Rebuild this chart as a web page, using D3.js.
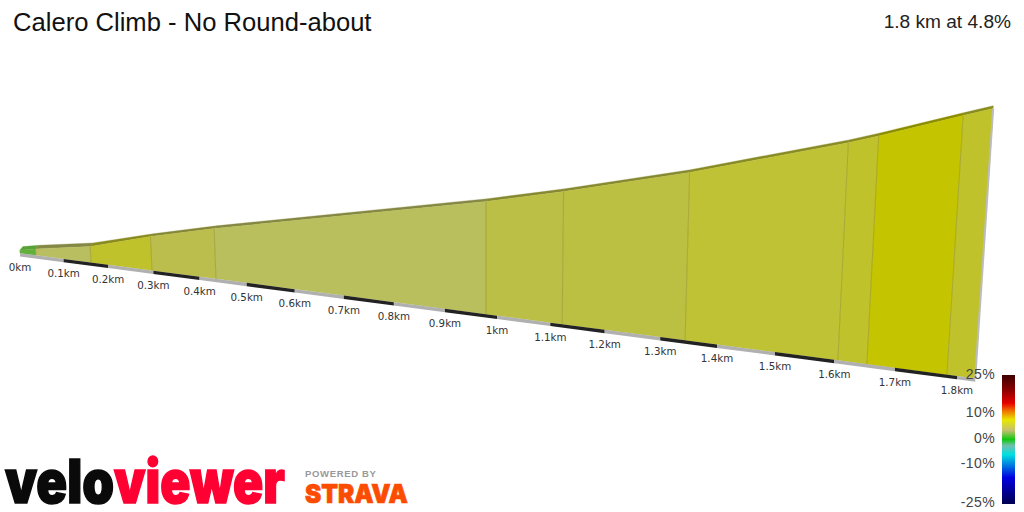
<!DOCTYPE html>
<html><head><meta charset="utf-8">
<script src="https://cdn.jsdelivr.net/npm/d3@7"></script>
<style>html,body{margin:0;padding:0;background:#fff;overflow:hidden}svg{display:block}</style>
</head><body><div id="chart"></div>
<script>
const titleText = "Calero Climb - No Round-about";
const summaryText = "1.8 km at 4.8%";
// Profile
const distanceKm = [0, 0.037, 0.162, 0.297, 0.435, 0.979, 1.122, 1.344, 1.606, 1.654, 1.784, 1.829];
const elevationM = [0, 1.3, 5.0, 11.8, 17.8, 39.1, 45.5, 56.5, 71.5, 74.6, 83.6, 86.7];
const gradePct = [0.6, 2.6, 6.0, 4.0, 2.8, 4.4, 4.7, 5.5, 6.0, 8.0, 6.0];
const tickKm = [0,0.1,0.2,0.3,0.4,0.5,0.6,0.7,0.8,0.9,1,1.1,1.2,1.3,1.4,1.5,1.6,1.7,1.8];
const tickLabels = ["0km","0.1km","0.2km","0.3km","0.4km","0.5km","0.6km","0.7km","0.8km","0.9km","1km","1.1km","1.2km","1.3km","1.4km","1.5km","1.6km","1.7km","1.8km"];
const legendPct = [25,10,0,-10,-25];
const legendLabels = ["25%","10%","0%","-10%","-25%"];
const legendStopPct = [25,19,14,11,7.5,3.5,0,-2.5,-6,-15,-25];
const legendStopColors = ["#3d0000","#8c0000","#e60000","#f07000","#e8e800","#c4c070","#10c810","#70c0b0","#00e0e0","#0000e0","#000050"];
const faceGrades = [0,0.6,2.6,4,5,6,8];
const faceColors = ["#3fa83f","#62b03c","#b9bf60","#bbbe4c","#bdc13e","#c0c22c","#c4c400"];

const W=1024,H=512;
const svg=d3.select("#chart").append("svg").attr("width",W).attr("height",H);

// perspective projection: km -> compressed depth -> screen x
const persp=-0.0945;
const depth=d=>d/(1+persp*d);
const xScale=d3.scaleLinear().domain([0,1]).range([20,452]);
const baseY=d3.scaleLinear().domain([63,975]).range([258.8,378.3]);
const elevPx=d3.scaleLinear().domain([0,1]).range([3,5.54]);
const faceColor=d3.scaleLinear().domain(faceGrades).range(faceColors);
const legendY=d3.scaleLinear().domain(legendPct).range([374,412,438,463,502]);
const bottomOf=d=>{const x=xScale(depth(d));return [x,baseY(x)];};
const topOf=(d,e)=>{const [x,y]=bottomOf(d);const h=elevPx(e)/(1+persp*d);return [x+h*(x-486)/7362,y-h];};

const pts=distanceKm.map((d,i)=>({d,e:elevationM[i],b:bottomOf(d),t:topOf(d,elevationM[i])}));
const line=d3.line();
const g=svg.append("g");

// roof, one strip per segment, shaded from that segment's colour
const roofH=2.8;
const backOf=p=>[p.t[0]+Math.max(0,3-p.d*1.6),p.t[1]-roofH-(p.d<0.2?0.8:0)];
gradePct.forEach((gr,i)=>{
  const a=pts[i],b=pts[i+1];
  const c=d3.color(faceColor(gr)).darker(i===0?0.25:0.95).formatHex();
  g.append("path").attr("d",line([a.t,b.t,backOf(b),backOf(a)])+"Z").attr("fill",c).attr("stroke",c).attr("stroke-width",0.3);
});

// faces
gradePct.forEach((gr,i)=>{
  const a=pts[i],b=pts[i+1];
  g.append("path").attr("d",line([a.b,a.t,b.t,b.b])+"Z").attr("fill",faceColor(gr)).attr("stroke",faceColor(gr)).attr("stroke-width",0.4);
});
// segment dividers
pts.slice(1,-1).forEach(p=>{
  g.append("path").attr("d",line([p.b,p.t])).attr("stroke","#8f8f2c").attr("stroke-opacity",0.55).attr("stroke-width",1).attr("fill","none");
});
// right edge
const last=pts[pts.length-1];
g.append("path").attr("d",line([last.t,last.b])).attr("stroke","#bcbcbc").attr("stroke-width",2).attr("fill","none");

// ground band
const bandKm=tickKm.concat([distanceKm[distanceKm.length-1]]);
bandKm.slice(0,-1).forEach((k,i)=>{
  const a=bottomOf(k),b=bottomOf(bandKm[i+1]);
  g.append("path").attr("d",line([a,b,[b[0],b[1]+3.4],[a[0],a[1]+3.4]])+"Z").attr("fill",i%2?"#222222":"#b0b0b0");
});

// tick labels
g.selectAll("text.t").data(tickKm).join("text").attr("class","t")
 .attr("x",d=>bottomOf(d)[0]).attr("y",d=>bottomOf(d)[1]+18)
 .attr("text-anchor","middle").attr("font-family","DejaVu Sans").attr("font-size",10.3).attr("fill","#333")
 .text((d,i)=>tickLabels[i]);

// titles
svg.append("text").attr("x",13).attr("y",31).attr("font-family","Liberation Sans").attr("font-size",25.6).attr("fill","#111").text(titleText);
svg.append("text").attr("x",1011).attr("y",28).attr("text-anchor","end").attr("font-family","Liberation Sans").attr("font-size",19.1).attr("fill","#222").text(summaryText);

// legend
const defs=svg.append("defs");
const lg=defs.append("linearGradient").attr("id","lg").attr("x1",0).attr("x2",0).attr("y1",0).attr("y2",1);
const y0=legendY(25),y1=legendY(-25);
legendStopPct.forEach((p,i)=>lg.append("stop").attr("offset",(legendY(p)-y0)/(y1-y0)).attr("stop-color",legendStopColors[i]));
svg.append("rect").attr("x",1002).attr("y",y0+1).attr("width",13).attr("height",y1-y0+1).attr("fill","url(#lg)");
svg.selectAll("text.l").data(legendPct).join("text").attr("class","l")
 .attr("x",995).attr("y",d=>legendY(d)+5).attr("text-anchor","end")
 .attr("font-family","Liberation Sans").attr("font-size",14).attr("letter-spacing",0.4).attr("fill","#444")
 .text((d,i)=>legendLabels[i]);

// logos: real text squeezed horizontally to the logo's width
function squeezed(parent,str,x,y,size,width,color,sw){
  const t=parent.append("text").attr("font-family","Inter").attr("font-weight",900).attr("font-size",size)
    .attr("fill",color).attr("stroke",color).attr("stroke-width",sw).text(str);
  const n=t.node().getComputedTextLength();
  t.attr("transform",`translate(${x},${y}) scale(${width/n},1)`);
}
squeezed(svg,"velo",5,503,60,109,"#0a0a0a",1.6);
squeezed(svg,"viewer",114,503,60,171,"#ff0033",1.6);
svg.append("text").attr("x",305).attr("y",477).attr("font-family","Liberation Sans").attr("font-weight",700).attr("font-size",9.5).attr("letter-spacing",0.65).attr("fill","#999").text("POWERED BY");
squeezed(svg,"STRAVA",305,503,26,103,"#fc4c02",0.7);
</script></body></html>
